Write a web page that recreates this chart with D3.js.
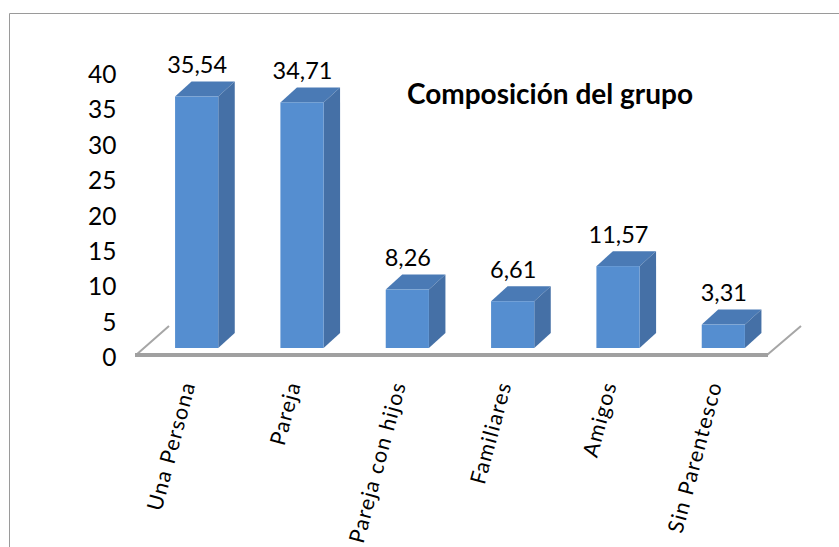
<!DOCTYPE html>
<html>
<head>
<meta charset="utf-8">
<script src="https://cdn.jsdelivr.net/npm/d3@7"></script>
<style>
html,body{margin:0;padding:0;background:#fff;overflow:hidden}
text{font-family:Lato,"Open Sans",sans-serif;fill:#000}
</style>
</head>
<body>
<svg id="c" width="839" height="547"></svg>
<script>
const categories = ["Una Persona","Pareja","Pareja con hijos","Familiares","Amigos","Sin Parentesco"];
const values = [35.54,34.71,8.26,6.61,11.57,3.31];
const yTicks = [0,5,10,15,20,25,30,35,40];
const chartTitle = "Composición del grupo";

const svg = d3.select("#c");
const H = 547;
const baseY = 348, dx = 16.5, dy = 15;

const x = d3.scaleBand().domain(categories).range([144, 776]).paddingInner(0.59).paddingOuter(0.295);
const y = d3.scaleLinear().domain([0,40]).range([baseY, baseY - 283]);
const fmt = v => d3.format(".2f")(v).replace(".", ",");

// frame: left and top edges only
svg.append("path").attr("d", `M9.5 ${H} V13.5 H839`).attr("fill","none").attr("stroke","#9a9a9a").attr("stroke-width",1);

// floor
svg.append("path").attr("d","M169 326 L136 355 M767 355 L801 326").attr("fill","none").attr("stroke","#a6a6a6").attr("stroke-width",2);
svg.append("path").attr("d","M135 355 H768").attr("fill","none").attr("stroke","#a0a0a0").attr("stroke-width",4);

// y labels
svg.append("g").selectAll("text").data(yTicks).join("text")
  .attr("x",116.5).attr("y",d=>y(d)+8.5).attr("text-anchor","end").attr("dominant-baseline","central")
  .attr("font-size",24.5).text(d=>d);

// bars
const bars = svg.append("g").selectAll("g").data(categories).join("g");
bars.each(function(c,i){
  const g = d3.select(this), x0 = x(c), w = x.bandwidth(), t = y(values[i]), b = y(0);
  g.append("path").attr("d",`M${x0} ${t} l${dx} ${-dy} h${w} l${-dx} ${dy} Z`).attr("fill","#4a7ab5");
  g.append("path").attr("d",`M${x0+w} ${t} l${dx} ${-dy} V${b-dy} l${-dx} ${dy} Z`).attr("fill","#4570a6");
  g.append("rect").attr("x",x0).attr("y",t).attr("width",w).attr("height",b-t).attr("fill","#558ed0");
  g.append("text").attr("x",x0+w/2+0.5).attr("y",t-32.5).attr("text-anchor","middle").attr("dominant-baseline","central")
    .attr("font-size",23.5).text(fmt(values[i]));
});

// category labels
svg.append("g").selectAll("text").data(categories).join("text")
  .attr("text-anchor","end").attr("font-size",21.5).attr("letter-spacing",1.2)
  .attr("transform",c=>`translate(${x(c)+x.bandwidth()/2-1},384) rotate(-75)`)
  .text(c=>c);

// title
svg.append("text").attr("x",550).attr("y",93).attr("text-anchor","middle").attr("dominant-baseline","central")
  .attr("font-size",28).attr("font-weight",700).text(chartTitle);
</script>
</body>
</html>
